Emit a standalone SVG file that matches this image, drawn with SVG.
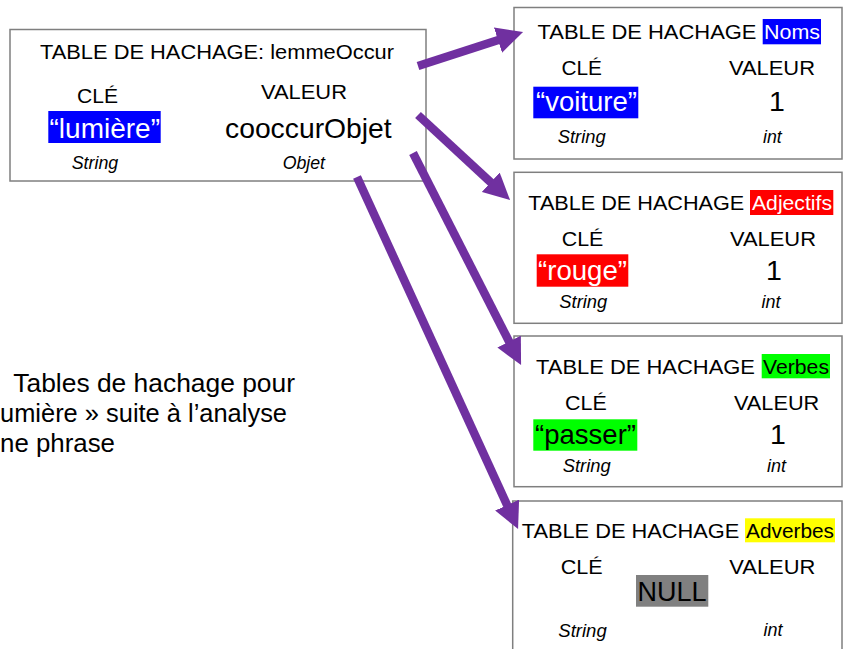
<svg xmlns="http://www.w3.org/2000/svg" width="843" height="649" viewBox="0 0 843 649">
<style>
  text { font-family: "Liberation Sans", Arial, sans-serif; fill: #000; }
  .box { fill: #fff; stroke: #7f7f7f; stroke-width: 1.5; }
  .ttl { font-size: 20.5px; }
  .hdr { font-size: 20.5px; }
  .val { font-size: 28.5px; }
  .typ { font-size: 18.5px; font-style: italic; }
  .wht { fill: #fff; }
  .cap { font-size: 25.5px; }
  .arr { stroke: #7030A0; stroke-width: 8.5; fill: none; marker-end: url(#ah); }
</style>
<defs>
  <marker id="ah" viewBox="0 0 10 10" refX="2" refY="5" markerWidth="3.1" markerHeight="3.1" orient="auto" markerUnits="strokeWidth">
    <path d="M0,0 L10,5 L0,10 z" fill="#7030A0"/>
  </marker>
</defs>
<rect width="843" height="649" fill="#fff"/>

<g id="lemmeOccur">
  <rect class="box" x="10" y="29.5" width="416" height="151.5"/>
  <text class="ttl" x="40" y="58.5" textLength="354" lengthAdjust="spacingAndGlyphs">TABLE DE HACHAGE: lemmeOccur</text>
  <text class="hdr" x="77" y="102.5" textLength="41" lengthAdjust="spacingAndGlyphs">CLÉ</text>
  <text class="hdr" x="261" y="98.5" textLength="86" lengthAdjust="spacingAndGlyphs">VALEUR</text>
  <rect x="48.3" y="111" width="112.4" height="32" fill="#0000ff"/>
  <text class="val wht" x="49.5" y="137.5" textLength="110.5" lengthAdjust="spacingAndGlyphs">“lumière”</text>
  <text class="val" x="225" y="138" textLength="166.7" lengthAdjust="spacingAndGlyphs">cooccurObjet</text>
  <text class="typ" x="71.7" y="168.5" textLength="46.6" lengthAdjust="spacingAndGlyphs">String</text>
  <text class="typ" x="282.7" y="169" textLength="42.3" lengthAdjust="spacingAndGlyphs">Objet</text>
</g>

<g id="noms">
  <rect class="box" x="514" y="7.5" width="328" height="151.5"/>
  <text class="ttl" x="537.5" y="39" textLength="219" lengthAdjust="spacingAndGlyphs">TABLE DE HACHAGE</text>
  <rect x="762.7" y="19" width="58.3" height="25.3" fill="#0000ff"/>
  <text class="ttl wht" x="764" y="39" textLength="56" lengthAdjust="spacingAndGlyphs">Noms</text>
  <text class="hdr" x="561.5" y="75" textLength="40.5" lengthAdjust="spacingAndGlyphs">CLÉ</text>
  <text class="hdr" x="729" y="75" textLength="86" lengthAdjust="spacingAndGlyphs">VALEUR</text>
  <rect x="533.3" y="86.7" width="105" height="31.6" fill="#0000ff"/>
  <text class="val wht" x="536" y="111" textLength="101" lengthAdjust="spacingAndGlyphs">“voiture”</text>
  <text class="val" x="777" y="110.5" text-anchor="middle">1</text>
  <text class="typ" x="557.7" y="143.3" textLength="48" lengthAdjust="spacingAndGlyphs">String</text>
  <text class="typ" x="763" y="143" textLength="18.7" lengthAdjust="spacingAndGlyphs">int</text>
</g>

<g id="adjectifs">
  <rect class="box" x="514" y="172.3" width="328" height="151"/>
  <text class="ttl" x="528.3" y="209.5" textLength="216" lengthAdjust="spacingAndGlyphs">TABLE DE HACHAGE</text>
  <rect x="750" y="190" width="83.3" height="25" fill="#ff0000"/>
  <text class="ttl wht" x="752" y="209.5" textLength="80" lengthAdjust="spacingAndGlyphs">Adjectifs</text>
  <text class="hdr" x="561.7" y="245.7" textLength="41.6" lengthAdjust="spacingAndGlyphs">CLÉ</text>
  <text class="hdr" x="730" y="245.7" textLength="86" lengthAdjust="spacingAndGlyphs">VALEUR</text>
  <rect x="536.7" y="254.3" width="91.6" height="32.4" fill="#ff0000"/>
  <text class="val wht" x="538" y="280" textLength="89" lengthAdjust="spacingAndGlyphs">“rouge”</text>
  <text class="val" x="774" y="280" text-anchor="middle">1</text>
  <text class="typ" x="559.3" y="308.3" textLength="48" lengthAdjust="spacingAndGlyphs">String</text>
  <text class="typ" x="761.5" y="308" textLength="19" lengthAdjust="spacingAndGlyphs">int</text>
</g>

<g id="verbes">
  <rect class="box" x="514" y="336" width="328" height="150.7"/>
  <text class="ttl" x="536" y="374" textLength="219" lengthAdjust="spacingAndGlyphs">TABLE DE HACHAGE</text>
  <rect x="761.7" y="354" width="68.3" height="24.3" fill="#00ff00"/>
  <text class="ttl" x="763" y="374" textLength="66" lengthAdjust="spacingAndGlyphs">Verbes</text>
  <text class="hdr" x="565" y="410" textLength="41.7" lengthAdjust="spacingAndGlyphs">CLÉ</text>
  <text class="hdr" x="734" y="410" textLength="85.3" lengthAdjust="spacingAndGlyphs">VALEUR</text>
  <rect x="533.3" y="419.3" width="104" height="31.4" fill="#00ff00"/>
  <text class="val" x="535" y="443.5" textLength="101" lengthAdjust="spacingAndGlyphs">“passer”</text>
  <text class="val" x="778" y="444" text-anchor="middle">1</text>
  <text class="typ" x="562.7" y="471.7" textLength="48" lengthAdjust="spacingAndGlyphs">String</text>
  <text class="typ" x="767" y="472" textLength="19" lengthAdjust="spacingAndGlyphs">int</text>
</g>

<g id="adverbes">
  <rect class="box" x="512.7" y="501" width="329.3" height="160"/>
  <text class="ttl" x="521.7" y="538" textLength="217.6" lengthAdjust="spacingAndGlyphs">TABLE DE HACHAGE</text>
  <rect x="745" y="518.3" width="90" height="24" fill="#ffff00"/>
  <text class="ttl" x="746" y="538" textLength="88" lengthAdjust="spacingAndGlyphs">Adverbes</text>
  <text class="hdr" x="560.7" y="574" textLength="42" lengthAdjust="spacingAndGlyphs">CLÉ</text>
  <text class="hdr" x="729.3" y="574" textLength="86" lengthAdjust="spacingAndGlyphs">VALEUR</text>
  <rect x="636" y="575" width="72.3" height="31.7" fill="#808080"/>
  <text class="val" x="637.5" y="601" textLength="69" lengthAdjust="spacingAndGlyphs">NULL</text>
  <text class="typ" x="558.3" y="636.7" textLength="48.4" lengthAdjust="spacingAndGlyphs">String</text>
  <text class="typ" x="763.5" y="636" textLength="19" lengthAdjust="spacingAndGlyphs">int</text>
</g>

<g id="caption">
  <text class="cap" x="13.3" y="392" textLength="281.7" lengthAdjust="spacingAndGlyphs">Tables de hachage pour</text>
  <text class="cap" x="0" y="422" textLength="287" lengthAdjust="spacingAndGlyphs">umière » suite à l’analyse</text>
  <text class="cap" x="0" y="452" textLength="115" lengthAdjust="spacingAndGlyphs">ne phrase</text>
</g>

<g id="connectors">
  <line class="arr" x1="418" y1="66" x2="503" y2="38.5"/>
  <line class="arr" x1="418" y1="115" x2="494.6" y2="185.8"/>
  <line class="arr" x1="413" y1="153" x2="511.5" y2="346.3"/>
  <line class="arr" x1="357" y1="177" x2="509.3" y2="509.9"/>
</g>
</svg>
